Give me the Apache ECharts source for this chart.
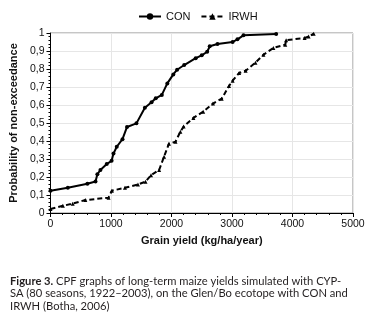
<!DOCTYPE html>
<html>
<head>
<meta charset="utf-8">
<script src="https://cdn.jsdelivr.net/npm/echarts@6/dist/echarts.min.js"></script>
<style>
    html, body { margin: 0; padding: 0; background: #fff; }
    #chart { width: 369px; height: 319px; }
</style>
</head>
<body>
<div id="chart"></div>
<script>
// values
var conYield = [0, 286, 610, 744, 775, 825, 930, 1010, 1041, 1095, 1190, 1265, 1420, 1560, 1670, 1740, 1840, 1931, 2030, 2093, 2210, 2400, 2500, 2590, 2632, 2760, 3010, 3090, 3190, 3730];
var conProb = [0.124, 0.14, 0.163, 0.175, 0.215, 0.239, 0.272, 0.29, 0.33, 0.368, 0.41, 0.478, 0.498, 0.585, 0.615, 0.637, 0.656, 0.72, 0.77, 0.796, 0.822, 0.86, 0.876, 0.896, 0.926, 0.939, 0.95, 0.965, 0.987, 0.994];
var irwhYield = [0, 205, 367, 575, 960, 1014, 1230, 1445, 1570, 1661, 1796, 1877, 1958, 2066, 2147, 2200, 2362, 2524, 2686, 2830, 2950, 3010, 3118, 3225, 3387, 3520, 3684, 3880, 3895, 4200, 4266, 4350];
var irwhProb = [0.022, 0.04, 0.052, 0.072, 0.085, 0.124, 0.14, 0.158, 0.174, 0.21, 0.239, 0.313, 0.385, 0.396, 0.452, 0.48, 0.528, 0.563, 0.608, 0.635, 0.705, 0.735, 0.778, 0.79, 0.835, 0.879, 0.917, 0.935, 0.96, 0.972, 0.98, 0.996];

var captionLines = [
    ['Figure 3.', ' CPF graphs of long-term maize yields simulated with CYP-'],
    ['', 'SA (80 seasons, 1922\u20132003), on the Glen/Bo ecotope with CON and'],
    ['', 'IRWH (Botha, 2006)']
];

var FONT = 'Liberation Sans';

function pairs(xs, ys) {
    var out = [];
    for (let i = 0; i < xs.length; i++) {
        out.push([xs[i], ys[i]]);
    }
    return out;
}

var chart = echarts.init(document.getElementById('chart'));

var caption = captionLines.map(function (l) {
    return (l[0] ? '{b|' + l[0] + '}' : '') + '{n|' + l[1] + '}';
}).join('\n');

var option = {
    animation: false,
    title: {
        text: caption,
        left: 5,
        top: 270,
        textStyle: {
            fontWeight: 'normal',
            rich: {
                b: { fontFamily: 'Lato', fontWeight: 'bold', fontSize: 11.2, color: '#231f20', lineHeight: 12.5 },
                n: { fontFamily: 'Lato', fontWeight: 'normal', fontSize: 11.2, color: '#231f20', lineHeight: 12.5 }
            }
        }
    },
    legend: {
        top: 6,
        left: 133,
        itemWidth: 22,
        itemHeight: 8,
        itemGap: 10,
        textStyle: { fontSize: 11, color: '#111', fontFamily: FONT },
        data: ['CON', 'IRWH']
    },
    grid: {
        left: 44,
        right: 16,
        top: 33,
        bottom: 106,
        show: true,
        borderColor: '#8c8c8c',
        borderWidth: 1
    },
    xAxis: {
        type: 'value',
        min: 0,
        max: 5000,
        interval: 1000,
        name: 'Grain yield (kg/ha/year)',
        nameLocation: 'middle',
        nameGap: 22,
        nameTextStyle: { fontWeight: 'bold', fontSize: 11, color: '#111', fontFamily: FONT },
        axisLine: { show: true, lineStyle: { color: '#000', width: 1 } },
        axisTick: { show: true, length: 4, lineStyle: { color: '#000' } },
        minorTick: { show: true, splitNumber: 5, length: 2, lineStyle: { color: '#000' } },
        axisLabel: {
            fontSize: 10.5,
            color: '#111',
            margin: 6,
            fontFamily: FONT,
            formatter: function (v) { return String(v); }
        },
        splitLine: { show: true, lineStyle: { color: '#e6e6e6' } }
    },
    yAxis: {
        type: 'value',
        min: 0,
        max: 1,
        interval: 0.1,
        name: 'Probability of non-exceedance',
        nameLocation: 'middle',
        nameGap: 28,
        nameTextStyle: { fontWeight: 'bold', fontSize: 11, color: '#111', fontFamily: FONT },
        axisLine: { show: true, lineStyle: { color: '#000', width: 1 } },
        axisTick: { show: true, length: 4, lineStyle: { color: '#000' } },
        minorTick: { show: true, splitNumber: 5, length: 2, lineStyle: { color: '#000' } },
        axisLabel: {
            fontSize: 10.5,
            color: '#111',
            margin: 6,
            fontFamily: FONT,
            formatter: function (v) {
                return String(Math.round(v * 10) / 10).replace('.', ',');
            }
        },
        splitLine: { show: true, lineStyle: { color: '#e6e6e6' } }
    },
    series: [
        {
            name: 'CON',
            type: 'line',
            data: pairs(conYield, conProb),
            symbol: 'circle',
            symbolSize: 4,
            itemStyle: { color: '#000' },
            lineStyle: { color: '#000', width: 2 }
        },
        {
            name: 'IRWH',
            type: 'line',
            data: pairs(irwhYield, irwhProb),
            symbol: 'triangle',
            symbolSize: 4,
            itemStyle: { color: '#000' },
            lineStyle: { color: '#000', width: 2, type: [5, 3] }
        }
    ]
};

chart.setOption(option);
</script>
</body>
</html>
